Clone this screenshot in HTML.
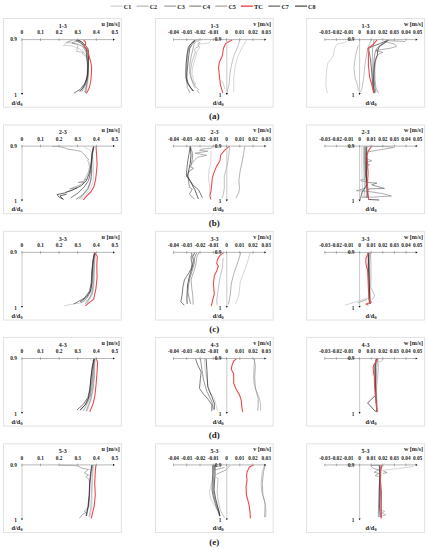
<!DOCTYPE html><html><head><meta charset="utf-8"><style>html,body{margin:0;padding:0;background:#fff;}svg{display:block;} text{font-family:"Liberation Serif",serif;font-weight:bold;fill:#1a1a1a;}</style></head><body>
<svg width="428" height="550" viewBox="0 0 428 550">
<rect x="0" y="0" width="428" height="550" fill="#fff"/>
<line x1="110.7" y1="6.1" x2="122.7" y2="6.1" stroke="#c4c4c4" stroke-width="1.0"/>
<text x="123.8" y="8.5" font-size="7.0" textLength="7.5" lengthAdjust="spacingAndGlyphs">C1</text>
<line x1="136.6" y1="6.1" x2="148.6" y2="6.1" stroke="#a8a8a8" stroke-width="1.0"/>
<text x="149.7" y="8.5" font-size="7.0" textLength="7.5" lengthAdjust="spacingAndGlyphs">C2</text>
<line x1="164.2" y1="6.1" x2="176.2" y2="6.1" stroke="#8c8c8c" stroke-width="1.0"/>
<text x="177.29999999999998" y="8.5" font-size="7.0" textLength="7.5" lengthAdjust="spacingAndGlyphs">C3</text>
<line x1="189.4" y1="6.1" x2="201.4" y2="6.1" stroke="#6e6e6e" stroke-width="1.0"/>
<text x="202.5" y="8.5" font-size="7.0" textLength="7.5" lengthAdjust="spacingAndGlyphs">C4</text>
<line x1="215.3" y1="6.1" x2="227.3" y2="6.1" stroke="#909090" stroke-width="1.0"/>
<text x="228.4" y="8.5" font-size="7.0" textLength="7.5" lengthAdjust="spacingAndGlyphs">C5</text>
<line x1="240.8" y1="6.1" x2="252.8" y2="6.1" stroke="#f02030" stroke-width="1.2"/>
<text x="253.9" y="8.5" font-size="7.0" textLength="9.1" lengthAdjust="spacingAndGlyphs">TC</text>
<line x1="268.3" y1="6.1" x2="280.3" y2="6.1" stroke="#444444" stroke-width="1.0"/>
<text x="281.40000000000003" y="8.5" font-size="7.0" textLength="7.5" lengthAdjust="spacingAndGlyphs">C7</text>
<line x1="295.0" y1="6.1" x2="307.0" y2="6.1" stroke="#222222" stroke-width="1.0"/>
<text x="308.1" y="8.5" font-size="7.0" textLength="7.5" lengthAdjust="spacingAndGlyphs">C8</text>
<rect x="3.5" y="18.5" width="117.8" height="88.7" fill="none" stroke="#e2e2e2" stroke-width="1.0"/>
<polyline points="75.0,40.0 68.0,42.0 63.3,45.3 71.3,45.8 76.6,47.5 82.9,51.1 86.0,56.0 88.0,63.0 88.6,72.0 88.2,80.0 87.2,87.0 85.7,93.0" fill="none" stroke="#c4c4c4" stroke-width="0.7" stroke-linejoin="round"/>
<polyline points="72.0,40.0 66.0,42.5 72.0,43.0 78.0,45.0 76.6,51.5 83.8,52.4 82.0,53.3 86.5,57.0 88.3,66.0 88.0,76.0 86.5,85.0 84.4,92.5" fill="none" stroke="#a8a8a8" stroke-width="0.7" stroke-linejoin="round"/>
<polyline points="79.0,40.0 72.0,43.0 78.0,44.0 83.0,47.0 86.0,52.0 87.8,59.0 88.0,68.0 87.4,78.0 85.0,86.0 82.0,91.5" fill="none" stroke="#8c8c8c" stroke-width="0.7" stroke-linejoin="round"/>
<polyline points="75.0,40.0 80.0,42.5 84.5,47.0 87.0,53.0 88.0,61.0 88.0,70.0 87.2,78.0 85.5,84.0 82.0,89.0 79.4,91.3" fill="none" stroke="#909090" stroke-width="0.7" stroke-linejoin="round"/>
<polyline points="78.9,40.0 83.5,44.0 86.8,50.0 88.2,57.0 88.5,65.0 88.2,73.0 87.5,80.0 86.5,86.0 85.6,93.0" fill="none" stroke="#6e6e6e" stroke-width="0.7" stroke-linejoin="round"/>
<polyline points="76.0,40.5 80.2,42.6 83.5,45.4 86.3,49.1 86.7,52.4 86.6,57.0 87.3,62.0 87.5,68.0 87.2,75.0 86.3,79.0 84.5,84.0 80.0,89.5 73.9,93.2" fill="none" stroke="#444444" stroke-width="0.7" stroke-linejoin="round"/>
<polyline points="77.4,40.0 81.6,41.7 84.4,44.5 86.7,46.8 88.1,49.1 88.6,52.4 88.5,57.0 88.2,62.0 88.0,68.0 87.6,75.0 86.5,80.0 84.5,85.0 82.5,88.5 80.0,91.5" fill="none" stroke="#222222" stroke-width="0.7" stroke-linejoin="round"/>
<polyline points="83.5,40.3 85.3,41.7 85.8,44.0 84.6,46.3 84.2,47.3 86.0,47.7 87.4,50.1 88.4,52.9 89.3,57.0 90.5,61.0 91.3,65.0 91.6,68.0 91.5,72.0 91.2,76.0 90.9,80.0 89.6,87.0 88.0,90.5 86.3,93.5" fill="none" stroke="#ee4a4e" stroke-width="1.1" stroke-linejoin="round"/>
<line x1="22.0" y1="39.6" x2="22.0" y2="93.4" stroke="#bdbdbd" stroke-width="0.8"/>
<path d="M20.9,93.10000000000001 L23.1,93.10000000000001 L22.0,94.9 Z" fill="#111"/>
<line x1="21.9" y1="39.6" x2="113.4" y2="39.6" stroke="#a4a4a4" stroke-width="0.8"/>
<path d="M113.0,38.5 L113.0,40.7 L114.9,39.6 Z" fill="#111"/>
<line x1="21.90" y1="38.300000000000004" x2="21.90" y2="40.9" stroke="#8a8a8a" stroke-width="0.7"/>
<line x1="40.50" y1="38.300000000000004" x2="40.50" y2="40.9" stroke="#8a8a8a" stroke-width="0.7"/>
<line x1="59.10" y1="38.300000000000004" x2="59.10" y2="40.9" stroke="#8a8a8a" stroke-width="0.7"/>
<line x1="77.70" y1="38.300000000000004" x2="77.70" y2="40.9" stroke="#8a8a8a" stroke-width="0.7"/>
<line x1="96.30" y1="38.300000000000004" x2="96.30" y2="40.9" stroke="#8a8a8a" stroke-width="0.7"/>
<text x="21.90" y="34.20" font-size="5.3" text-anchor="middle">0</text>
<text x="40.50" y="34.20" font-size="5.3" text-anchor="middle">0.1</text>
<text x="59.10" y="34.20" font-size="5.3" text-anchor="middle">0.2</text>
<text x="77.70" y="34.20" font-size="5.3" text-anchor="middle">0.3</text>
<text x="96.30" y="34.20" font-size="5.3" text-anchor="middle">0.4</text>
<text x="114.90" y="34.20" font-size="5.3" text-anchor="middle">0.5</text>
<text x="62.7" y="27.80" font-size="6.1" text-anchor="middle">1-3</text>
<text x="119.7" y="25.90" font-size="6.1" text-anchor="end">u [m/s]</text>
<text x="13.5" y="41.40" font-size="5.3" text-anchor="middle">0.9</text>
<text x="15.6" y="96.90" font-size="5.3" text-anchor="middle">1</text>
<text x="17.0" y="104.70" font-size="6.4" text-anchor="middle">d/d<tspan font-size="4.2" dy="1.2">0</tspan></text>
<rect x="155.5" y="18.5" width="117.7" height="88.7" fill="none" stroke="#e2e2e2" stroke-width="1.0"/>
<polyline points="211.0,40.0 209.9,41.6 209.0,43.0 203.4,43.9 201.0,43.5 198.7,45.3 199.6,47.7 196.8,51.9 195.9,56.6 194.0,62.2 192.5,68.0 192.0,74.0 193.5,80.0 196.0,85.0" fill="none" stroke="#c4c4c4" stroke-width="0.7" stroke-linejoin="round"/>
<polyline points="200.1,39.3 197.3,41.1 200.1,43.0 197.8,43.9 198.7,46.3 195.4,48.1 194.5,50.0 195.4,51.9 194.0,56.6 192.1,61.2 191.2,65.9 190.5,72.0 191.0,78.0 193.0,84.0 195.0,88.0" fill="none" stroke="#a8a8a8" stroke-width="0.7" stroke-linejoin="round"/>
<polyline points="194.0,40.3 190.0,45.0 188.0,52.0 187.2,60.0 186.8,70.0 186.5,78.0 187.3,87.4 190.1,93.0" fill="none" stroke="#8c8c8c" stroke-width="0.7" stroke-linejoin="round"/>
<polyline points="196.4,40.5 194.0,44.4 193.1,48.1 191.2,56.6 189.8,64.0 189.7,73.3 192.0,79.9 195.3,86.4 198.6,89.7 197.2,91.1 199.5,93.0" fill="none" stroke="#909090" stroke-width="0.7" stroke-linejoin="round"/>
<polyline points="195.4,40.2 192.1,44.4 189.8,48.1 188.9,54.7 187.9,64.0 187.0,72.0 186.8,78.0 188.0,83.0 191.0,88.0 193.5,91.0" fill="none" stroke="#444444" stroke-width="0.7" stroke-linejoin="round"/>
<polyline points="195.0,40.2 191.2,43.5 188.4,47.2 187.0,54.7 186.1,64.0 185.8,72.0 186.0,78.0 187.3,82.7 190.0,87.0 193.0,91.1" fill="none" stroke="#222222" stroke-width="0.7" stroke-linejoin="round"/>
<polyline points="239.8,40.0 237.7,46.8 233.7,56.3 231.0,67.2 229.6,76.7 229.0,84.8 226.9,92.9" fill="none" stroke="#a8a8a8" stroke-width="0.7" stroke-linejoin="round"/>
<polyline points="246.6,40.0 242.5,46.8 237.7,56.3 235.0,67.2 233.7,78.0 233.7,91.6" fill="none" stroke="#c4c4c4" stroke-width="0.7" stroke-linejoin="round"/>
<polyline points="222.2,80.7 224.9,88.9" fill="none" stroke="#c4c4c4" stroke-width="0.7" stroke-linejoin="round"/>
<polyline points="232.3,39.8 225.6,43.5 223.5,48.2 222.2,56.3 219.5,61.7 218.5,67.2 219.5,76.7 220.4,84.8 222.8,92.9" fill="none" stroke="#ee4a4e" stroke-width="1.1" stroke-linejoin="round"/>
<line x1="226.8" y1="39.6" x2="226.8" y2="93.4" stroke="#bdbdbd" stroke-width="0.8"/>
<path d="M225.70000000000002,93.10000000000001 L227.9,93.10000000000001 L226.8,94.9 Z" fill="#111"/>
<line x1="173.5" y1="39.6" x2="264.75" y2="39.6" stroke="#a4a4a4" stroke-width="0.8"/>
<path d="M264.35,38.5 L264.35,40.7 L266.25,39.6 Z" fill="#111"/>
<line x1="173.50" y1="38.300000000000004" x2="173.50" y2="40.9" stroke="#8a8a8a" stroke-width="0.7"/>
<line x1="186.75" y1="38.300000000000004" x2="186.75" y2="40.9" stroke="#8a8a8a" stroke-width="0.7"/>
<line x1="200.00" y1="38.300000000000004" x2="200.00" y2="40.9" stroke="#8a8a8a" stroke-width="0.7"/>
<line x1="213.25" y1="38.300000000000004" x2="213.25" y2="40.9" stroke="#8a8a8a" stroke-width="0.7"/>
<line x1="226.50" y1="38.300000000000004" x2="226.50" y2="40.9" stroke="#8a8a8a" stroke-width="0.7"/>
<line x1="239.75" y1="38.300000000000004" x2="239.75" y2="40.9" stroke="#8a8a8a" stroke-width="0.7"/>
<line x1="253.00" y1="38.300000000000004" x2="253.00" y2="40.9" stroke="#8a8a8a" stroke-width="0.7"/>
<text x="173.50" y="34.20" font-size="5.3" text-anchor="middle">-0.04</text>
<text x="186.75" y="34.20" font-size="5.3" text-anchor="middle">-0.03</text>
<text x="200.00" y="34.20" font-size="5.3" text-anchor="middle">-0.02</text>
<text x="213.25" y="34.20" font-size="5.3" text-anchor="middle">-0.01</text>
<text x="226.50" y="34.20" font-size="5.3" text-anchor="middle">0</text>
<text x="239.75" y="34.20" font-size="5.3" text-anchor="middle">0.01</text>
<text x="253.00" y="34.20" font-size="5.3" text-anchor="middle">0.02</text>
<text x="266.25" y="34.20" font-size="5.3" text-anchor="middle">0.03</text>
<text x="214.5" y="27.80" font-size="6.1" text-anchor="middle">1-3</text>
<text x="271.0" y="25.90" font-size="6.1" text-anchor="end">v [m/s]</text>
<text x="218.0" y="41.40" font-size="5.3" text-anchor="middle">0.9</text>
<text x="220.0" y="96.90" font-size="5.3" text-anchor="middle">1</text>
<text x="218.2" y="104.70" font-size="6.4" text-anchor="middle">d/d<tspan font-size="4.2" dy="1.2">0</tspan></text>
<rect x="306.6" y="18.5" width="118.0" height="88.7" fill="none" stroke="#e2e2e2" stroke-width="1.0"/>
<polyline points="346.6,41.3 343.1,43.0 336.7,44.2 335.5,47.1 334.4,48.9 333.2,55.9 330.9,59.4 327.9,62.9 326.8,68.7 326.2,76.9 325.9,85.0 327.3,93.2" fill="none" stroke="#c4c4c4" stroke-width="0.7" stroke-linejoin="round"/>
<polyline points="358.2,45.5 356.6,51.0 355.0,59.1 354.0,67.6 355.0,78.1 357.7,85.5 358.2,90.8" fill="none" stroke="#a8a8a8" stroke-width="0.7" stroke-linejoin="round"/>
<polyline points="371.4,39.5 369.0,45.3 366.7,53.5 364.9,65.2 363.8,76.9 362.0,88.6 360.5,92.0" fill="none" stroke="#a8a8a8" stroke-width="0.7" stroke-linejoin="round"/>
<polyline points="374.0,40.0 372.5,50.0 372.2,60.0 372.3,70.0 372.8,80.0 373.5,90.0" fill="none" stroke="#8c8c8c" stroke-width="0.7" stroke-linejoin="round"/>
<polyline points="384.2,41.3 394.7,44.2 396.5,46.5 390.0,48.3 378.4,50.0 375.4,50.6 383.0,52.4 379.5,53.5 377.0,56.0 375.5,62.0 374.8,70.0 375.0,80.0 376.0,88.0 378.5,93.0" fill="none" stroke="#909090" stroke-width="0.7" stroke-linejoin="round"/>
<polyline points="388.0,40.0 382.0,44.0 377.0,48.0 375.0,53.0 374.0,60.0 373.8,70.0 374.0,80.0 375.0,88.0 376.0,92.0" fill="none" stroke="#6e6e6e" stroke-width="0.7" stroke-linejoin="round"/>
<polyline points="388.0,40.0 379.0,44.0 372.5,46.3 368.5,48.7 369.5,53.0 370.5,60.0 371.5,70.0 372.3,80.0 373.0,88.0 374.0,93.0" fill="none" stroke="#444444" stroke-width="0.7" stroke-linejoin="round"/>
<polyline points="388.9,40.0 379.5,46.5 377.8,50.0 377.2,55.9 375.4,59.4 374.3,65.2 373.7,76.9 373.7,87.4 374.9,93.2" fill="none" stroke="#222222" stroke-width="0.7" stroke-linejoin="round"/>
<polyline points="386.0,40.5 405.0,41.5" fill="none" stroke="#8c8c8c" stroke-width="0.7" stroke-linejoin="round"/>
<polyline points="377.2,39.5 373.7,44.2 367.9,48.3 368.4,53.5 368.4,65.2 369.6,76.9 371.9,85.1 373.7,93.2" fill="none" stroke="#ee4a4e" stroke-width="1.1" stroke-linejoin="round"/>
<line x1="359.6" y1="39.6" x2="359.6" y2="93.4" stroke="#bdbdbd" stroke-width="0.8"/>
<path d="M358.5,93.10000000000001 L360.70000000000005,93.10000000000001 L359.6,94.9 Z" fill="#111"/>
<line x1="324.8" y1="39.6" x2="416.1" y2="39.6" stroke="#a4a4a4" stroke-width="0.8"/>
<path d="M415.70000000000005,38.5 L415.70000000000005,40.7 L417.6,39.6 Z" fill="#111"/>
<line x1="324.80" y1="38.300000000000004" x2="324.80" y2="40.9" stroke="#8a8a8a" stroke-width="0.7"/>
<line x1="336.40" y1="38.300000000000004" x2="336.40" y2="40.9" stroke="#8a8a8a" stroke-width="0.7"/>
<line x1="348.00" y1="38.300000000000004" x2="348.00" y2="40.9" stroke="#8a8a8a" stroke-width="0.7"/>
<line x1="359.60" y1="38.300000000000004" x2="359.60" y2="40.9" stroke="#8a8a8a" stroke-width="0.7"/>
<line x1="371.20" y1="38.300000000000004" x2="371.20" y2="40.9" stroke="#8a8a8a" stroke-width="0.7"/>
<line x1="382.80" y1="38.300000000000004" x2="382.80" y2="40.9" stroke="#8a8a8a" stroke-width="0.7"/>
<line x1="394.40" y1="38.300000000000004" x2="394.40" y2="40.9" stroke="#8a8a8a" stroke-width="0.7"/>
<line x1="406.00" y1="38.300000000000004" x2="406.00" y2="40.9" stroke="#8a8a8a" stroke-width="0.7"/>
<text x="324.80" y="34.20" font-size="5.3" text-anchor="middle">-0.03</text>
<text x="336.40" y="34.20" font-size="5.3" text-anchor="middle">-0.02</text>
<text x="348.00" y="34.20" font-size="5.3" text-anchor="middle">-0.01</text>
<text x="359.60" y="34.20" font-size="5.3" text-anchor="middle">0</text>
<text x="371.20" y="34.20" font-size="5.3" text-anchor="middle">0.01</text>
<text x="382.80" y="34.20" font-size="5.3" text-anchor="middle">0.02</text>
<text x="394.40" y="34.20" font-size="5.3" text-anchor="middle">0.03</text>
<text x="406.00" y="34.20" font-size="5.3" text-anchor="middle">0.04</text>
<text x="417.60" y="34.20" font-size="5.3" text-anchor="middle">0.05</text>
<text x="365.5" y="27.80" font-size="6.1" text-anchor="middle">1-3</text>
<text x="423.0" y="25.90" font-size="6.1" text-anchor="end">w [m/s]</text>
<text x="351.2" y="41.40" font-size="5.3" text-anchor="middle">0.9</text>
<text x="353.0" y="96.90" font-size="5.3" text-anchor="middle">1</text>
<text x="371.0" y="104.70" font-size="6.4" text-anchor="middle">d/d<tspan font-size="4.2" dy="1.2">0</tspan></text>
<text x="214.2" y="119.10" font-size="9" text-anchor="middle">(a)</text>
<rect x="3.5" y="125.0" width="117.8" height="88.7" fill="none" stroke="#e2e2e2" stroke-width="1.0"/>
<polyline points="84.4,147.2 88.6,149.3 90.8,151.4 92.5,156.0 93.5,165.0 93.5,172.0 92.9,182.5 89.7,189.9 84.4,196.2 80.2,199.3" fill="none" stroke="#c4c4c4" stroke-width="0.7" stroke-linejoin="round"/>
<polyline points="52.2,146.4 59.2,146.5 64.1,147.7 67.6,149.1 74.0,150.0 81.3,151.4 82.9,153.5 85.5,155.6 86.5,157.7 88.6,159.3 87.6,160.9 89.2,162.5 88.6,164.0 89.7,166.1 88.5,172.0 86.0,177.0 84.4,179.4 86.5,179.4 83.0,181.5 78.1,182.5 84.4,182.0 80.0,185.0 75.0,187.0 69.7,188.8 77.1,187.8 72.0,190.0 66.0,192.0" fill="none" stroke="#909090" stroke-width="0.7" stroke-linejoin="round"/>
<polyline points="93.5,146.4 92.8,153.5 92.0,164.0 91.5,172.0 90.8,180.4 88.5,188.5 84.0,194.0 79.0,199.3" fill="none" stroke="#8c8c8c" stroke-width="0.7" stroke-linejoin="round"/>
<polyline points="93.9,146.4 92.3,153.5 91.3,164.0 91.8,172.0 90.8,180.4 87.6,188.8 82.3,195.1 76.0,199.3" fill="none" stroke="#6e6e6e" stroke-width="0.7" stroke-linejoin="round"/>
<polyline points="93.9,146.4 92.3,153.5 91.3,164.0 90.5,172.0 88.6,180.4 84.4,186.7 78.1,193.0 70.8,197.8" fill="none" stroke="#444444" stroke-width="0.7" stroke-linejoin="round"/>
<polyline points="93.5,146.4 92.0,153.5 91.0,164.0 89.7,172.0 86.5,180.4 81.3,185.7 72.9,189.9 64.5,193.0 57.1,194.6 59.2,197.2 63.4,199.3 60.0,196.0 66.6,194.1" fill="none" stroke="#222222" stroke-width="0.7" stroke-linejoin="round"/>
<polyline points="96.0,146.4 96.5,153.5 97.1,164.0 96.5,172.0 95.5,180.4 93.9,186.7 90.8,192.0 86.5,196.2 83.4,199.9" fill="none" stroke="#ee4a4e" stroke-width="1.1" stroke-linejoin="round"/>
<line x1="22.0" y1="146.1" x2="22.0" y2="199.9" stroke="#bdbdbd" stroke-width="0.8"/>
<path d="M20.9,199.6 L23.1,199.6 L22.0,201.4 Z" fill="#111"/>
<line x1="21.9" y1="146.1" x2="113.4" y2="146.1" stroke="#a4a4a4" stroke-width="0.8"/>
<path d="M113.0,145.0 L113.0,147.2 L114.9,146.1 Z" fill="#111"/>
<line x1="21.90" y1="144.79999999999998" x2="21.90" y2="147.4" stroke="#8a8a8a" stroke-width="0.7"/>
<line x1="40.50" y1="144.79999999999998" x2="40.50" y2="147.4" stroke="#8a8a8a" stroke-width="0.7"/>
<line x1="59.10" y1="144.79999999999998" x2="59.10" y2="147.4" stroke="#8a8a8a" stroke-width="0.7"/>
<line x1="77.70" y1="144.79999999999998" x2="77.70" y2="147.4" stroke="#8a8a8a" stroke-width="0.7"/>
<line x1="96.30" y1="144.79999999999998" x2="96.30" y2="147.4" stroke="#8a8a8a" stroke-width="0.7"/>
<text x="21.90" y="140.70" font-size="5.3" text-anchor="middle">0</text>
<text x="40.50" y="140.70" font-size="5.3" text-anchor="middle">0.1</text>
<text x="59.10" y="140.70" font-size="5.3" text-anchor="middle">0.2</text>
<text x="77.70" y="140.70" font-size="5.3" text-anchor="middle">0.3</text>
<text x="96.30" y="140.70" font-size="5.3" text-anchor="middle">0.4</text>
<text x="114.90" y="140.70" font-size="5.3" text-anchor="middle">0.5</text>
<text x="62.7" y="134.30" font-size="6.1" text-anchor="middle">2-3</text>
<text x="119.7" y="132.40" font-size="6.1" text-anchor="end">u [m/s]</text>
<text x="13.5" y="147.90" font-size="5.3" text-anchor="middle">0.9</text>
<text x="15.6" y="203.40" font-size="5.3" text-anchor="middle">1</text>
<text x="17.0" y="211.20" font-size="6.4" text-anchor="middle">d/d<tspan font-size="4.2" dy="1.2">0</tspan></text>
<rect x="155.5" y="125.0" width="117.7" height="88.7" fill="none" stroke="#e2e2e2" stroke-width="1.0"/>
<polyline points="211.1,151.2 210.7,163.4 209.0,170.0 208.5,178.0 209.5,186.0 210.0,195.0" fill="none" stroke="#c4c4c4" stroke-width="0.7" stroke-linejoin="round"/>
<polyline points="191.4,164.3 194.3,160.2 197.6,157.3 206.6,155.3 195.1,153.2 207.8,151.2 199.6,150.4 201.7,149.1 206.2,148.7 211.9,147.9 213.5,146.3" fill="none" stroke="#909090" stroke-width="0.7" stroke-linejoin="round"/>
<polyline points="190.2,146.3 192.7,153.6 192.3,159.4 191.0,166.0 190.2,166.7 193.5,168.3 189.8,170.8 187.8,174.0 188.6,181.4 189.4,187.2 192.3,189.2 189.4,194.1 194.4,199.0" fill="none" stroke="#6e6e6e" stroke-width="0.7" stroke-linejoin="round"/>
<polyline points="190.2,146.3 188.8,155.0 187.6,162.0 187.0,167.5 186.5,173.0 186.4,176.0 189.4,179.8 193.5,185.5 198.4,189.6 202.5,197.8" fill="none" stroke="#444444" stroke-width="0.7" stroke-linejoin="round"/>
<polyline points="190.2,146.3 191.0,155.3 190.2,163.4 189.0,169.2 188.2,173.0 187.5,176.0 190.3,181.4 194.8,189.6 198.4,199.0" fill="none" stroke="#222222" stroke-width="0.7" stroke-linejoin="round"/>
<polyline points="229.6,146.3 229.0,153.7 227.3,165.4 225.5,171.2 224.3,177.0 224.3,188.7 223.2,194.6 222.0,198.1" fill="none" stroke="#a8a8a8" stroke-width="0.7" stroke-linejoin="round"/>
<polyline points="244.8,146.3 243.6,153.7 241.9,163.0 240.1,171.2 238.9,180.6 239.5,188.7 238.4,193.4 236.0,198.1" fill="none" stroke="#909090" stroke-width="0.7" stroke-linejoin="round"/>
<polyline points="229.4,146.1 224.3,150.7 220.7,155.0 220.0,160.8 216.4,166.6 213.5,173.9 212.3,178.2 211.1,190.4 209.9,195.3 210.7,199.4" fill="none" stroke="#ee4a4e" stroke-width="1.1" stroke-linejoin="round"/>
<line x1="226.8" y1="146.1" x2="226.8" y2="199.9" stroke="#bdbdbd" stroke-width="0.8"/>
<path d="M225.70000000000002,199.6 L227.9,199.6 L226.8,201.4 Z" fill="#111"/>
<line x1="173.5" y1="146.1" x2="264.75" y2="146.1" stroke="#a4a4a4" stroke-width="0.8"/>
<path d="M264.35,145.0 L264.35,147.2 L266.25,146.1 Z" fill="#111"/>
<line x1="173.50" y1="144.79999999999998" x2="173.50" y2="147.4" stroke="#8a8a8a" stroke-width="0.7"/>
<line x1="186.75" y1="144.79999999999998" x2="186.75" y2="147.4" stroke="#8a8a8a" stroke-width="0.7"/>
<line x1="200.00" y1="144.79999999999998" x2="200.00" y2="147.4" stroke="#8a8a8a" stroke-width="0.7"/>
<line x1="213.25" y1="144.79999999999998" x2="213.25" y2="147.4" stroke="#8a8a8a" stroke-width="0.7"/>
<line x1="226.50" y1="144.79999999999998" x2="226.50" y2="147.4" stroke="#8a8a8a" stroke-width="0.7"/>
<line x1="239.75" y1="144.79999999999998" x2="239.75" y2="147.4" stroke="#8a8a8a" stroke-width="0.7"/>
<line x1="253.00" y1="144.79999999999998" x2="253.00" y2="147.4" stroke="#8a8a8a" stroke-width="0.7"/>
<text x="173.50" y="140.70" font-size="5.3" text-anchor="middle">-0.04</text>
<text x="186.75" y="140.70" font-size="5.3" text-anchor="middle">-0.03</text>
<text x="200.00" y="140.70" font-size="5.3" text-anchor="middle">-0.02</text>
<text x="213.25" y="140.70" font-size="5.3" text-anchor="middle">-0.01</text>
<text x="226.50" y="140.70" font-size="5.3" text-anchor="middle">0</text>
<text x="239.75" y="140.70" font-size="5.3" text-anchor="middle">0.01</text>
<text x="253.00" y="140.70" font-size="5.3" text-anchor="middle">0.02</text>
<text x="266.25" y="140.70" font-size="5.3" text-anchor="middle">0.03</text>
<text x="214.5" y="134.30" font-size="6.1" text-anchor="middle">2-3</text>
<text x="271.0" y="132.40" font-size="6.1" text-anchor="end">v [m/s]</text>
<text x="218.0" y="147.90" font-size="5.3" text-anchor="middle">0.9</text>
<text x="220.0" y="203.40" font-size="5.3" text-anchor="middle">1</text>
<text x="218.2" y="211.20" font-size="6.4" text-anchor="middle">d/d<tspan font-size="4.2" dy="1.2">0</tspan></text>
<rect x="306.6" y="125.0" width="118.0" height="88.7" fill="none" stroke="#e2e2e2" stroke-width="1.0"/>
<polyline points="361.8,147.0 361.8,160.0 362.0,175.0 362.5,190.0 363.0,198.0" fill="none" stroke="#c4c4c4" stroke-width="0.7" stroke-linejoin="round"/>
<polyline points="363.4,146.5 363.5,160.0 364.0,175.0 364.5,190.0 365.0,198.0" fill="none" stroke="#a8a8a8" stroke-width="0.7" stroke-linejoin="round"/>
<polyline points="366.0,146.5 386.0,146.5 393.5,147.5 367.0,152.0 366.5,158.8 371.8,160.9 367.6,161.9 367.0,164.0 369.7,164.6 367.5,166.0 366.5,172.0 364.6,179.0 360.5,180.2 362.9,181.3 366.4,181.3 367.0,188.0 367.5,198.0" fill="none" stroke="#909090" stroke-width="0.7" stroke-linejoin="round"/>
<polyline points="365.0,146.5 365.2,160.0 365.5,175.0 367.5,182.5 376.9,183.1 371.6,184.9 384.5,188.4 368.7,188.9 367.0,192.0 366.5,198.0" fill="none" stroke="#6e6e6e" stroke-width="0.7" stroke-linejoin="round"/>
<polyline points="364.5,146.5 364.6,160.0 365.0,175.0 366.0,188.0 356.4,190.7 367.5,191.3 382.7,193.6 391.5,196.0 373.4,197.1 361.7,197.1" fill="none" stroke="#8c8c8c" stroke-width="0.7" stroke-linejoin="round"/>
<polyline points="366.0,146.5 365.8,160.0 366.0,175.0 367.5,183.7 361.7,193.0 360.5,198.9" fill="none" stroke="#444444" stroke-width="0.7" stroke-linejoin="round"/>
<polyline points="366.8,146.5 366.5,160.0 366.5,175.0 367.0,190.0 368.7,199.5 379.2,200.0" fill="none" stroke="#222222" stroke-width="0.7" stroke-linejoin="round"/>
<polyline points="371.3,146.3 370.8,147.2 368.1,151.4 367.1,155.6 367.6,164.0 368.1,173.0 367.5,183.7 368.1,195.4 368.7,199.5" fill="none" stroke="#ee4a4e" stroke-width="1.1" stroke-linejoin="round"/>
<line x1="359.6" y1="146.1" x2="359.6" y2="199.9" stroke="#bdbdbd" stroke-width="0.8"/>
<path d="M358.5,199.6 L360.70000000000005,199.6 L359.6,201.4 Z" fill="#111"/>
<line x1="324.8" y1="146.1" x2="416.1" y2="146.1" stroke="#a4a4a4" stroke-width="0.8"/>
<path d="M415.70000000000005,145.0 L415.70000000000005,147.2 L417.6,146.1 Z" fill="#111"/>
<line x1="324.80" y1="144.79999999999998" x2="324.80" y2="147.4" stroke="#8a8a8a" stroke-width="0.7"/>
<line x1="336.40" y1="144.79999999999998" x2="336.40" y2="147.4" stroke="#8a8a8a" stroke-width="0.7"/>
<line x1="348.00" y1="144.79999999999998" x2="348.00" y2="147.4" stroke="#8a8a8a" stroke-width="0.7"/>
<line x1="359.60" y1="144.79999999999998" x2="359.60" y2="147.4" stroke="#8a8a8a" stroke-width="0.7"/>
<line x1="371.20" y1="144.79999999999998" x2="371.20" y2="147.4" stroke="#8a8a8a" stroke-width="0.7"/>
<line x1="382.80" y1="144.79999999999998" x2="382.80" y2="147.4" stroke="#8a8a8a" stroke-width="0.7"/>
<line x1="394.40" y1="144.79999999999998" x2="394.40" y2="147.4" stroke="#8a8a8a" stroke-width="0.7"/>
<line x1="406.00" y1="144.79999999999998" x2="406.00" y2="147.4" stroke="#8a8a8a" stroke-width="0.7"/>
<text x="324.80" y="140.70" font-size="5.3" text-anchor="middle">-0.03</text>
<text x="336.40" y="140.70" font-size="5.3" text-anchor="middle">-0.02</text>
<text x="348.00" y="140.70" font-size="5.3" text-anchor="middle">-0.01</text>
<text x="359.60" y="140.70" font-size="5.3" text-anchor="middle">0</text>
<text x="371.20" y="140.70" font-size="5.3" text-anchor="middle">0.01</text>
<text x="382.80" y="140.70" font-size="5.3" text-anchor="middle">0.02</text>
<text x="394.40" y="140.70" font-size="5.3" text-anchor="middle">0.03</text>
<text x="406.00" y="140.70" font-size="5.3" text-anchor="middle">0.04</text>
<text x="417.60" y="140.70" font-size="5.3" text-anchor="middle">0.05</text>
<text x="365.5" y="134.30" font-size="6.1" text-anchor="middle">2-3</text>
<text x="423.0" y="132.40" font-size="6.1" text-anchor="end">w [m/s]</text>
<text x="351.2" y="147.90" font-size="5.3" text-anchor="middle">0.9</text>
<text x="353.0" y="203.40" font-size="5.3" text-anchor="middle">1</text>
<text x="371.0" y="211.20" font-size="6.4" text-anchor="middle">d/d<tspan font-size="4.2" dy="1.2">0</tspan></text>
<text x="214.2" y="225.60" font-size="9" text-anchor="middle">(b)</text>
<rect x="3.5" y="231.3" width="117.8" height="88.7" fill="none" stroke="#e2e2e2" stroke-width="1.0"/>
<polyline points="95.5,252.6 94.8,262.0 94.3,275.0 93.8,287.0 92.5,294.0 88.0,300.0 79.0,303.5 74.9,303.5 64.3,305.8" fill="none" stroke="#c4c4c4" stroke-width="0.7" stroke-linejoin="round"/>
<polyline points="95.2,252.6 94.5,262.0 94.0,275.0 93.5,286.0 92.2,294.0 89.5,299.0 86.5,304.5" fill="none" stroke="#a8a8a8" stroke-width="0.7" stroke-linejoin="round"/>
<polyline points="95.0,252.6 94.0,260.0 93.5,271.0 93.0,283.0 92.0,292.0 89.5,298.0 85.0,304.0" fill="none" stroke="#8c8c8c" stroke-width="0.7" stroke-linejoin="round"/>
<polyline points="94.7,252.6 93.5,260.0 92.5,271.0 92.0,283.0 90.5,292.0 87.0,298.0 81.0,303.0" fill="none" stroke="#6e6e6e" stroke-width="0.7" stroke-linejoin="round"/>
<polyline points="94.7,252.6 93.0,259.7 91.8,271.4 91.2,283.0 89.5,291.2 84.2,298.2 73.7,304.1" fill="none" stroke="#444444" stroke-width="0.7" stroke-linejoin="round"/>
<polyline points="94.5,252.6 93.2,260.0 92.2,271.0 91.8,283.0 90.5,291.0 86.5,297.0 80.0,302.0" fill="none" stroke="#222222" stroke-width="0.7" stroke-linejoin="round"/>
<polyline points="94.7,252.6 97.3,256.2 96.8,265.5 97.1,277.2 95.9,288.9 93.6,299.4 88.9,302.9 85.4,305.8" fill="none" stroke="#ee4a4e" stroke-width="1.1" stroke-linejoin="round"/>
<line x1="22.0" y1="252.4" x2="22.0" y2="306.20000000000005" stroke="#bdbdbd" stroke-width="0.8"/>
<path d="M20.9,305.90000000000003 L23.1,305.90000000000003 L22.0,307.70000000000005 Z" fill="#111"/>
<line x1="21.9" y1="252.4" x2="113.4" y2="252.4" stroke="#a4a4a4" stroke-width="0.8"/>
<path d="M113.0,251.3 L113.0,253.5 L114.9,252.4 Z" fill="#111"/>
<line x1="21.90" y1="251.1" x2="21.90" y2="253.70000000000002" stroke="#8a8a8a" stroke-width="0.7"/>
<line x1="40.50" y1="251.1" x2="40.50" y2="253.70000000000002" stroke="#8a8a8a" stroke-width="0.7"/>
<line x1="59.10" y1="251.1" x2="59.10" y2="253.70000000000002" stroke="#8a8a8a" stroke-width="0.7"/>
<line x1="77.70" y1="251.1" x2="77.70" y2="253.70000000000002" stroke="#8a8a8a" stroke-width="0.7"/>
<line x1="96.30" y1="251.1" x2="96.30" y2="253.70000000000002" stroke="#8a8a8a" stroke-width="0.7"/>
<text x="21.90" y="247.00" font-size="5.3" text-anchor="middle">0</text>
<text x="40.50" y="247.00" font-size="5.3" text-anchor="middle">0.1</text>
<text x="59.10" y="247.00" font-size="5.3" text-anchor="middle">0.2</text>
<text x="77.70" y="247.00" font-size="5.3" text-anchor="middle">0.3</text>
<text x="96.30" y="247.00" font-size="5.3" text-anchor="middle">0.4</text>
<text x="114.90" y="247.00" font-size="5.3" text-anchor="middle">0.5</text>
<text x="62.7" y="240.60" font-size="6.1" text-anchor="middle">3-3</text>
<text x="119.7" y="238.70" font-size="6.1" text-anchor="end">u [m/s]</text>
<text x="13.5" y="254.20" font-size="5.3" text-anchor="middle">0.9</text>
<text x="15.6" y="309.70" font-size="5.3" text-anchor="middle">1</text>
<text x="17.0" y="317.50" font-size="6.4" text-anchor="middle">d/d<tspan font-size="4.2" dy="1.2">0</tspan></text>
<rect x="155.5" y="231.3" width="117.7" height="88.7" fill="none" stroke="#e2e2e2" stroke-width="1.0"/>
<polyline points="191.3,252.5 192.0,254.9 191.0,257.0 191.3,259.8 192.0,264.0 191.3,268.2 189.2,272.4 186.4,276.6 184.4,280.0 183.0,286.4 182.0,295.5 180.9,301.8 184.4,305.3" fill="none" stroke="#444444" stroke-width="0.7" stroke-linejoin="round"/>
<polyline points="194.8,252.5 192.7,256.3 193.4,260.5 192.4,266.8 190.6,272.4 189.0,278.0 187.6,285.0 187.2,292.0 186.9,299.0 187.2,303.9" fill="none" stroke="#222222" stroke-width="0.7" stroke-linejoin="round"/>
<polyline points="196.9,252.5 194.8,257.0 194.1,264.0 192.0,271.0 189.9,278.0 188.5,285.0 187.9,292.0 189.3,299.0 190.7,303.9" fill="none" stroke="#6e6e6e" stroke-width="0.7" stroke-linejoin="round"/>
<polyline points="199.0,252.5 196.9,257.0 195.9,264.0 194.1,271.0 192.0,276.6 191.1,280.0 191.8,288.5 192.8,295.5 193.2,304.6" fill="none" stroke="#8c8c8c" stroke-width="0.7" stroke-linejoin="round"/>
<polyline points="223.2,257.8 222.4,267.6 220.0,277.4 218.3,288.9 216.7,300.3 217.2,305.2" fill="none" stroke="#a8a8a8" stroke-width="0.7" stroke-linejoin="round"/>
<polyline points="240.8,252.5 237.9,262.0 233.8,273.7 231.4,283.0 230.3,294.7 228.5,304.1" fill="none" stroke="#909090" stroke-width="0.7" stroke-linejoin="round"/>
<polyline points="250.1,252.5 247.2,263.2 243.7,272.5 240.2,281.9 239.0,294.7 235.5,304.1" fill="none" stroke="#c4c4c4" stroke-width="0.7" stroke-linejoin="round"/>
<polyline points="224.1,252.4 220.0,255.4 217.5,259.4 216.7,263.5 218.3,266.0 216.7,270.9 214.3,275.8 213.4,284.0 214.3,293.8 212.6,300.3 211.3,306.1" fill="none" stroke="#ee4a4e" stroke-width="1.1" stroke-linejoin="round"/>
<line x1="226.8" y1="252.4" x2="226.8" y2="306.20000000000005" stroke="#bdbdbd" stroke-width="0.8"/>
<path d="M225.70000000000002,305.90000000000003 L227.9,305.90000000000003 L226.8,307.70000000000005 Z" fill="#111"/>
<line x1="173.5" y1="252.4" x2="264.75" y2="252.4" stroke="#a4a4a4" stroke-width="0.8"/>
<path d="M264.35,251.3 L264.35,253.5 L266.25,252.4 Z" fill="#111"/>
<line x1="173.50" y1="251.1" x2="173.50" y2="253.70000000000002" stroke="#8a8a8a" stroke-width="0.7"/>
<line x1="186.75" y1="251.1" x2="186.75" y2="253.70000000000002" stroke="#8a8a8a" stroke-width="0.7"/>
<line x1="200.00" y1="251.1" x2="200.00" y2="253.70000000000002" stroke="#8a8a8a" stroke-width="0.7"/>
<line x1="213.25" y1="251.1" x2="213.25" y2="253.70000000000002" stroke="#8a8a8a" stroke-width="0.7"/>
<line x1="226.50" y1="251.1" x2="226.50" y2="253.70000000000002" stroke="#8a8a8a" stroke-width="0.7"/>
<line x1="239.75" y1="251.1" x2="239.75" y2="253.70000000000002" stroke="#8a8a8a" stroke-width="0.7"/>
<line x1="253.00" y1="251.1" x2="253.00" y2="253.70000000000002" stroke="#8a8a8a" stroke-width="0.7"/>
<text x="173.50" y="247.00" font-size="5.3" text-anchor="middle">-0.04</text>
<text x="186.75" y="247.00" font-size="5.3" text-anchor="middle">-0.03</text>
<text x="200.00" y="247.00" font-size="5.3" text-anchor="middle">-0.02</text>
<text x="213.25" y="247.00" font-size="5.3" text-anchor="middle">-0.01</text>
<text x="226.50" y="247.00" font-size="5.3" text-anchor="middle">0</text>
<text x="239.75" y="247.00" font-size="5.3" text-anchor="middle">0.01</text>
<text x="253.00" y="247.00" font-size="5.3" text-anchor="middle">0.02</text>
<text x="266.25" y="247.00" font-size="5.3" text-anchor="middle">0.03</text>
<text x="214.5" y="240.60" font-size="6.1" text-anchor="middle">3-3</text>
<text x="271.0" y="238.70" font-size="6.1" text-anchor="end">v [m/s]</text>
<text x="218.0" y="254.20" font-size="5.3" text-anchor="middle">0.9</text>
<text x="220.0" y="309.70" font-size="5.3" text-anchor="middle">1</text>
<text x="218.2" y="317.50" font-size="6.4" text-anchor="middle">d/d<tspan font-size="4.2" dy="1.2">0</tspan></text>
<rect x="306.6" y="231.3" width="118.0" height="88.7" fill="none" stroke="#e2e2e2" stroke-width="1.0"/>
<polyline points="367.8,298.2 345.0,305.2" fill="none" stroke="#c4c4c4" stroke-width="0.7" stroke-linejoin="round"/>
<polyline points="370.5,252.5 371.0,265.5 371.0,280.0 370.7,286.6 374.8,295.9 371.3,300.6" fill="none" stroke="#a8a8a8" stroke-width="0.7" stroke-linejoin="round"/>
<polyline points="367.2,299.4 357.9,302.9" fill="none" stroke="#8c8c8c" stroke-width="0.7" stroke-linejoin="round"/>
<polyline points="368.5,252.5 368.0,265.0 368.5,283.0 369.0,300.0 369.5,304.0" fill="none" stroke="#6e6e6e" stroke-width="0.7" stroke-linejoin="round"/>
<polyline points="370.0,252.5 369.5,265.0 369.8,283.0 370.2,300.0" fill="none" stroke="#909090" stroke-width="0.7" stroke-linejoin="round"/>
<polyline points="369.0,252.5 368.4,265.5 369.0,283.0 369.5,300.6 370.1,304.1" fill="none" stroke="#444444" stroke-width="0.7" stroke-linejoin="round"/>
<polyline points="368.0,252.5 368.8,265.0 369.3,283.0 369.8,300.0 370.5,303.5" fill="none" stroke="#222222" stroke-width="0.7" stroke-linejoin="round"/>
<polyline points="368.4,252.5 367.5,255.0 366.0,258.0 365.8,262.0 366.3,266.0 367.5,270.0 368.0,277.2 368.4,288.9 369.0,299.4 371.3,302.3 366.0,304.1 368.4,305.2" fill="none" stroke="#ee4a4e" stroke-width="1.1" stroke-linejoin="round"/>
<line x1="359.6" y1="252.4" x2="359.6" y2="306.20000000000005" stroke="#bdbdbd" stroke-width="0.8"/>
<path d="M358.5,305.90000000000003 L360.70000000000005,305.90000000000003 L359.6,307.70000000000005 Z" fill="#111"/>
<line x1="324.8" y1="252.4" x2="416.1" y2="252.4" stroke="#a4a4a4" stroke-width="0.8"/>
<path d="M415.70000000000005,251.3 L415.70000000000005,253.5 L417.6,252.4 Z" fill="#111"/>
<line x1="324.80" y1="251.1" x2="324.80" y2="253.70000000000002" stroke="#8a8a8a" stroke-width="0.7"/>
<line x1="336.40" y1="251.1" x2="336.40" y2="253.70000000000002" stroke="#8a8a8a" stroke-width="0.7"/>
<line x1="348.00" y1="251.1" x2="348.00" y2="253.70000000000002" stroke="#8a8a8a" stroke-width="0.7"/>
<line x1="359.60" y1="251.1" x2="359.60" y2="253.70000000000002" stroke="#8a8a8a" stroke-width="0.7"/>
<line x1="371.20" y1="251.1" x2="371.20" y2="253.70000000000002" stroke="#8a8a8a" stroke-width="0.7"/>
<line x1="382.80" y1="251.1" x2="382.80" y2="253.70000000000002" stroke="#8a8a8a" stroke-width="0.7"/>
<line x1="394.40" y1="251.1" x2="394.40" y2="253.70000000000002" stroke="#8a8a8a" stroke-width="0.7"/>
<line x1="406.00" y1="251.1" x2="406.00" y2="253.70000000000002" stroke="#8a8a8a" stroke-width="0.7"/>
<text x="324.80" y="247.00" font-size="5.3" text-anchor="middle">-0.03</text>
<text x="336.40" y="247.00" font-size="5.3" text-anchor="middle">-0.02</text>
<text x="348.00" y="247.00" font-size="5.3" text-anchor="middle">-0.01</text>
<text x="359.60" y="247.00" font-size="5.3" text-anchor="middle">0</text>
<text x="371.20" y="247.00" font-size="5.3" text-anchor="middle">0.01</text>
<text x="382.80" y="247.00" font-size="5.3" text-anchor="middle">0.02</text>
<text x="394.40" y="247.00" font-size="5.3" text-anchor="middle">0.03</text>
<text x="406.00" y="247.00" font-size="5.3" text-anchor="middle">0.04</text>
<text x="417.60" y="247.00" font-size="5.3" text-anchor="middle">0.05</text>
<text x="365.5" y="240.60" font-size="6.1" text-anchor="middle">3-3</text>
<text x="423.0" y="238.70" font-size="6.1" text-anchor="end">w [m/s]</text>
<text x="351.2" y="254.20" font-size="5.3" text-anchor="middle">0.9</text>
<text x="353.0" y="309.70" font-size="5.3" text-anchor="middle">1</text>
<text x="371.0" y="317.50" font-size="6.4" text-anchor="middle">d/d<tspan font-size="4.2" dy="1.2">0</tspan></text>
<text x="214.2" y="331.90" font-size="9" text-anchor="middle">(c)</text>
<rect x="3.5" y="337.4" width="117.8" height="88.7" fill="none" stroke="#e2e2e2" stroke-width="1.0"/>
<polyline points="90.4,359.3 93.3,361.0" fill="none" stroke="#c4c4c4" stroke-width="0.7" stroke-linejoin="round"/>
<polyline points="95.0,358.6 94.5,377.4 92.7,391.4 89.8,403.1 86.9,411.2" fill="none" stroke="#a8a8a8" stroke-width="0.7" stroke-linejoin="round"/>
<polyline points="93.9,358.6 93.3,371.5 92.1,386.7 89.8,398.4 83.4,411.2" fill="none" stroke="#8c8c8c" stroke-width="0.7" stroke-linejoin="round"/>
<polyline points="94.2,358.6 93.0,370.0 91.5,383.0 90.0,395.0 86.0,404.0 80.0,410.5" fill="none" stroke="#6e6e6e" stroke-width="0.7" stroke-linejoin="round"/>
<polyline points="94.8,358.6 94.0,372.0 93.0,387.0 91.0,399.0 88.0,406.0 86.0,411.5" fill="none" stroke="#909090" stroke-width="0.7" stroke-linejoin="round"/>
<polyline points="94.5,358.6 92.7,365.7 91.0,377.4 89.8,389.0 88.0,397.2 83.4,404.2 76.9,410.1" fill="none" stroke="#444444" stroke-width="0.7" stroke-linejoin="round"/>
<polyline points="94.0,358.6 92.3,366.0 91.0,377.0 90.0,389.0 88.5,398.0 85.0,405.0 80.0,410.0" fill="none" stroke="#222222" stroke-width="0.7" stroke-linejoin="round"/>
<polyline points="96.2,358.6 97.6,362.2 97.1,371.5 96.2,383.2 95.0,394.9 93.3,403.1 89.8,411.8" fill="none" stroke="#ee4a4e" stroke-width="1.1" stroke-linejoin="round"/>
<line x1="22.0" y1="358.5" x2="22.0" y2="412.29999999999995" stroke="#bdbdbd" stroke-width="0.8"/>
<path d="M20.9,411.99999999999994 L23.1,411.99999999999994 L22.0,413.79999999999995 Z" fill="#111"/>
<line x1="21.9" y1="358.5" x2="113.4" y2="358.5" stroke="#a4a4a4" stroke-width="0.8"/>
<path d="M113.0,357.4 L113.0,359.6 L114.9,358.5 Z" fill="#111"/>
<line x1="21.90" y1="357.2" x2="21.90" y2="359.8" stroke="#8a8a8a" stroke-width="0.7"/>
<line x1="40.50" y1="357.2" x2="40.50" y2="359.8" stroke="#8a8a8a" stroke-width="0.7"/>
<line x1="59.10" y1="357.2" x2="59.10" y2="359.8" stroke="#8a8a8a" stroke-width="0.7"/>
<line x1="77.70" y1="357.2" x2="77.70" y2="359.8" stroke="#8a8a8a" stroke-width="0.7"/>
<line x1="96.30" y1="357.2" x2="96.30" y2="359.8" stroke="#8a8a8a" stroke-width="0.7"/>
<text x="21.90" y="353.10" font-size="5.3" text-anchor="middle">0</text>
<text x="40.50" y="353.10" font-size="5.3" text-anchor="middle">0.1</text>
<text x="59.10" y="353.10" font-size="5.3" text-anchor="middle">0.2</text>
<text x="77.70" y="353.10" font-size="5.3" text-anchor="middle">0.3</text>
<text x="96.30" y="353.10" font-size="5.3" text-anchor="middle">0.4</text>
<text x="114.90" y="353.10" font-size="5.3" text-anchor="middle">0.5</text>
<text x="62.7" y="346.70" font-size="6.1" text-anchor="middle">4-3</text>
<text x="119.7" y="344.80" font-size="6.1" text-anchor="end">u [m/s]</text>
<text x="13.5" y="360.30" font-size="5.3" text-anchor="middle">0.9</text>
<text x="15.6" y="415.80" font-size="5.3" text-anchor="middle">1</text>
<text x="17.0" y="423.60" font-size="6.4" text-anchor="middle">d/d<tspan font-size="4.2" dy="1.2">0</tspan></text>
<rect x="155.5" y="337.4" width="117.7" height="88.7" fill="none" stroke="#e2e2e2" stroke-width="1.0"/>
<polyline points="204.4,358.6 205.3,370.4 209.3,391.6 214.3,398.2 217.5,411.2" fill="none" stroke="#c4c4c4" stroke-width="0.7" stroke-linejoin="round"/>
<polyline points="200.4,358.6 202.0,370.4 203.6,380.2 206.9,391.6 211.8,401.4 213.4,409.6" fill="none" stroke="#6e6e6e" stroke-width="0.7" stroke-linejoin="round"/>
<polyline points="195.4,358.6 197.9,365.4 201.2,372.0 200.4,378.5 199.5,388.3 202.8,393.3 208.5,399.8 211.8,404.7 211.8,411.2" fill="none" stroke="#444444" stroke-width="0.7" stroke-linejoin="round"/>
<polyline points="206.1,358.6 206.9,370.4 207.7,386.7 211.8,396.5 214.3,403.1 214.3,409.6" fill="none" stroke="#222222" stroke-width="0.7" stroke-linejoin="round"/>
<polyline points="254.7,358.6 254.1,365.7 253.5,377.4 254.1,384.4 257.0,392.6 259.4,398.4 260.6,404.2 260.6,410.7" fill="none" stroke="#a8a8a8" stroke-width="0.7" stroke-linejoin="round"/>
<polyline points="254.1,358.6 255.3,365.7 254.7,377.4 255.3,387.9 258.2,398.4 258.2,405.4 257.6,410.7" fill="none" stroke="#8c8c8c" stroke-width="0.7" stroke-linejoin="round"/>
<polyline points="236.6,358.6 233.7,361.0 231.9,365.7 231.3,369.2 233.7,373.9 233.7,383.2 236.0,389.0 239.5,394.9 241.3,400.7 241.9,407.7 242.8,411.8" fill="none" stroke="#ee4a4e" stroke-width="1.1" stroke-linejoin="round"/>
<line x1="226.8" y1="358.5" x2="226.8" y2="412.29999999999995" stroke="#bdbdbd" stroke-width="0.8"/>
<path d="M225.70000000000002,411.99999999999994 L227.9,411.99999999999994 L226.8,413.79999999999995 Z" fill="#111"/>
<line x1="173.5" y1="358.5" x2="264.75" y2="358.5" stroke="#a4a4a4" stroke-width="0.8"/>
<path d="M264.35,357.4 L264.35,359.6 L266.25,358.5 Z" fill="#111"/>
<line x1="173.50" y1="357.2" x2="173.50" y2="359.8" stroke="#8a8a8a" stroke-width="0.7"/>
<line x1="186.75" y1="357.2" x2="186.75" y2="359.8" stroke="#8a8a8a" stroke-width="0.7"/>
<line x1="200.00" y1="357.2" x2="200.00" y2="359.8" stroke="#8a8a8a" stroke-width="0.7"/>
<line x1="213.25" y1="357.2" x2="213.25" y2="359.8" stroke="#8a8a8a" stroke-width="0.7"/>
<line x1="226.50" y1="357.2" x2="226.50" y2="359.8" stroke="#8a8a8a" stroke-width="0.7"/>
<line x1="239.75" y1="357.2" x2="239.75" y2="359.8" stroke="#8a8a8a" stroke-width="0.7"/>
<line x1="253.00" y1="357.2" x2="253.00" y2="359.8" stroke="#8a8a8a" stroke-width="0.7"/>
<text x="173.50" y="353.10" font-size="5.3" text-anchor="middle">-0.04</text>
<text x="186.75" y="353.10" font-size="5.3" text-anchor="middle">-0.03</text>
<text x="200.00" y="353.10" font-size="5.3" text-anchor="middle">-0.02</text>
<text x="213.25" y="353.10" font-size="5.3" text-anchor="middle">-0.01</text>
<text x="226.50" y="353.10" font-size="5.3" text-anchor="middle">0</text>
<text x="239.75" y="353.10" font-size="5.3" text-anchor="middle">0.01</text>
<text x="253.00" y="353.10" font-size="5.3" text-anchor="middle">0.02</text>
<text x="266.25" y="353.10" font-size="5.3" text-anchor="middle">0.03</text>
<text x="214.5" y="346.70" font-size="6.1" text-anchor="middle">4-3</text>
<text x="271.0" y="344.80" font-size="6.1" text-anchor="end">v [m/s]</text>
<text x="218.0" y="360.30" font-size="5.3" text-anchor="middle">0.9</text>
<text x="220.0" y="415.80" font-size="5.3" text-anchor="middle">1</text>
<text x="218.2" y="423.60" font-size="6.4" text-anchor="middle">d/d<tspan font-size="4.2" dy="1.2">0</tspan></text>
<rect x="306.6" y="337.4" width="118.0" height="88.7" fill="none" stroke="#e2e2e2" stroke-width="1.0"/>
<polyline points="379.0,361.8 381.9,361.3 382.8,358.6" fill="none" stroke="#c4c4c4" stroke-width="0.7" stroke-linejoin="round"/>
<polyline points="378.1,358.6 378.4,367.7 377.6,379.4 376.7,386.0 376.5,395.0 377.0,404.0 378.0,411.0" fill="none" stroke="#a8a8a8" stroke-width="0.7" stroke-linejoin="round"/>
<polyline points="377.6,358.6 376.7,367.7 376.4,379.4 375.8,386.0 375.6,395.0 376.3,404.0 377.0,411.5" fill="none" stroke="#8c8c8c" stroke-width="0.7" stroke-linejoin="round"/>
<polyline points="376.0,358.6 374.8,366.0 375.2,378.0 376.3,390.0 376.8,400.0 376.8,411.0" fill="none" stroke="#909090" stroke-width="0.7" stroke-linejoin="round"/>
<polyline points="376.7,358.6 375.2,364.8 374.9,373.5 375.2,386.0 375.7,395.2 367.6,402.9 374.6,410.6 377.1,412.0" fill="none" stroke="#222222" stroke-width="0.7" stroke-linejoin="round"/>
<polyline points="376.5,358.6 375.5,366.0 375.5,378.0 375.6,390.0 376.2,400.0 376.7,412.0" fill="none" stroke="#444444" stroke-width="0.7" stroke-linejoin="round"/>
<polyline points="377.6,358.6 376.1,361.8 373.8,364.8 373.2,367.7 373.5,372.9 374.3,375.9 374.6,386.0 375.3,395.2 376.2,404.0 377.1,412.0" fill="none" stroke="#ee4a4e" stroke-width="1.1" stroke-linejoin="round"/>
<line x1="359.6" y1="358.5" x2="359.6" y2="412.29999999999995" stroke="#bdbdbd" stroke-width="0.8"/>
<path d="M358.5,411.99999999999994 L360.70000000000005,411.99999999999994 L359.6,413.79999999999995 Z" fill="#111"/>
<line x1="324.8" y1="358.5" x2="416.1" y2="358.5" stroke="#a4a4a4" stroke-width="0.8"/>
<path d="M415.70000000000005,357.4 L415.70000000000005,359.6 L417.6,358.5 Z" fill="#111"/>
<line x1="324.80" y1="357.2" x2="324.80" y2="359.8" stroke="#8a8a8a" stroke-width="0.7"/>
<line x1="336.40" y1="357.2" x2="336.40" y2="359.8" stroke="#8a8a8a" stroke-width="0.7"/>
<line x1="348.00" y1="357.2" x2="348.00" y2="359.8" stroke="#8a8a8a" stroke-width="0.7"/>
<line x1="359.60" y1="357.2" x2="359.60" y2="359.8" stroke="#8a8a8a" stroke-width="0.7"/>
<line x1="371.20" y1="357.2" x2="371.20" y2="359.8" stroke="#8a8a8a" stroke-width="0.7"/>
<line x1="382.80" y1="357.2" x2="382.80" y2="359.8" stroke="#8a8a8a" stroke-width="0.7"/>
<line x1="394.40" y1="357.2" x2="394.40" y2="359.8" stroke="#8a8a8a" stroke-width="0.7"/>
<line x1="406.00" y1="357.2" x2="406.00" y2="359.8" stroke="#8a8a8a" stroke-width="0.7"/>
<text x="324.80" y="353.10" font-size="5.3" text-anchor="middle">-0.03</text>
<text x="336.40" y="353.10" font-size="5.3" text-anchor="middle">-0.02</text>
<text x="348.00" y="353.10" font-size="5.3" text-anchor="middle">-0.01</text>
<text x="359.60" y="353.10" font-size="5.3" text-anchor="middle">0</text>
<text x="371.20" y="353.10" font-size="5.3" text-anchor="middle">0.01</text>
<text x="382.80" y="353.10" font-size="5.3" text-anchor="middle">0.02</text>
<text x="394.40" y="353.10" font-size="5.3" text-anchor="middle">0.03</text>
<text x="406.00" y="353.10" font-size="5.3" text-anchor="middle">0.04</text>
<text x="417.60" y="353.10" font-size="5.3" text-anchor="middle">0.05</text>
<text x="365.5" y="346.70" font-size="6.1" text-anchor="middle">4-3</text>
<text x="423.0" y="344.80" font-size="6.1" text-anchor="end">w [m/s]</text>
<text x="351.2" y="360.30" font-size="5.3" text-anchor="middle">0.9</text>
<text x="353.0" y="415.80" font-size="5.3" text-anchor="middle">1</text>
<text x="371.0" y="423.60" font-size="6.4" text-anchor="middle">d/d<tspan font-size="4.2" dy="1.2">0</tspan></text>
<text x="214.2" y="438.20" font-size="9" text-anchor="middle">(d)</text>
<rect x="3.5" y="443.8" width="117.8" height="88.7" fill="none" stroke="#e2e2e2" stroke-width="1.0"/>
<polyline points="93.6,465.0 92.4,483.4 91.8,506.7 90.0,517.2" fill="none" stroke="#c4c4c4" stroke-width="0.7" stroke-linejoin="round"/>
<polyline points="92.8,465.0 91.8,483.0 91.0,506.0 89.0,517.0" fill="none" stroke="#a8a8a8" stroke-width="0.7" stroke-linejoin="round"/>
<polyline points="59.3,465.2 70.0,465.4 77.5,465.8 82.0,468.2 88.5,469.5 84.3,472.8 88.6,475.0 85.8,476.5 89.0,479.5 89.5,483.0 89.5,495.0 88.9,506.7 84.2,511.4 86.0,512.6 81.9,514.9 79.5,518.4" fill="none" stroke="#909090" stroke-width="0.7" stroke-linejoin="round"/>
<polyline points="92.4,465.0 91.2,471.7 90.0,483.4 89.5,495.0 88.3,506.7 86.5,516.1" fill="none" stroke="#444444" stroke-width="0.7" stroke-linejoin="round"/>
<polyline points="91.8,465.0 90.7,471.7 89.6,483.4 89.1,495.0 88.0,506.7 86.0,516.0" fill="none" stroke="#222222" stroke-width="0.7" stroke-linejoin="round"/>
<polyline points="95.9,465.0 95.3,471.7 94.7,483.4 95.3,495.0 94.1,506.7 91.2,518.4" fill="none" stroke="#ee4a4e" stroke-width="1.1" stroke-linejoin="round"/>
<line x1="22.0" y1="464.90000000000003" x2="22.0" y2="518.7" stroke="#bdbdbd" stroke-width="0.8"/>
<path d="M20.9,518.4000000000001 L23.1,518.4000000000001 L22.0,520.2 Z" fill="#111"/>
<line x1="21.9" y1="464.90000000000003" x2="113.4" y2="464.90000000000003" stroke="#a4a4a4" stroke-width="0.8"/>
<path d="M113.0,463.8 L113.0,466.00000000000006 L114.9,464.90000000000003 Z" fill="#111"/>
<line x1="21.90" y1="463.6" x2="21.90" y2="466.20000000000005" stroke="#8a8a8a" stroke-width="0.7"/>
<line x1="40.50" y1="463.6" x2="40.50" y2="466.20000000000005" stroke="#8a8a8a" stroke-width="0.7"/>
<line x1="59.10" y1="463.6" x2="59.10" y2="466.20000000000005" stroke="#8a8a8a" stroke-width="0.7"/>
<line x1="77.70" y1="463.6" x2="77.70" y2="466.20000000000005" stroke="#8a8a8a" stroke-width="0.7"/>
<line x1="96.30" y1="463.6" x2="96.30" y2="466.20000000000005" stroke="#8a8a8a" stroke-width="0.7"/>
<text x="21.90" y="459.50" font-size="5.3" text-anchor="middle">0</text>
<text x="40.50" y="459.50" font-size="5.3" text-anchor="middle">0.1</text>
<text x="59.10" y="459.50" font-size="5.3" text-anchor="middle">0.2</text>
<text x="77.70" y="459.50" font-size="5.3" text-anchor="middle">0.3</text>
<text x="96.30" y="459.50" font-size="5.3" text-anchor="middle">0.4</text>
<text x="114.90" y="459.50" font-size="5.3" text-anchor="middle">0.5</text>
<text x="62.7" y="453.10" font-size="6.1" text-anchor="middle">5-3</text>
<text x="119.7" y="451.20" font-size="6.1" text-anchor="end">u [m/s]</text>
<text x="13.5" y="466.70" font-size="5.3" text-anchor="middle">0.9</text>
<text x="15.6" y="522.20" font-size="5.3" text-anchor="middle">1</text>
<text x="17.0" y="530.00" font-size="6.4" text-anchor="middle">d/d<tspan font-size="4.2" dy="1.2">0</tspan></text>
<rect x="155.5" y="443.8" width="117.7" height="88.7" fill="none" stroke="#e2e2e2" stroke-width="1.0"/>
<polyline points="213.1,465.0 213.1,476.0 212.5,480.0 210.6,486.5 209.4,492.0 210.6,498.2 214.7,506.4 218.8,512.9 220.0,516.0" fill="none" stroke="#c4c4c4" stroke-width="0.7" stroke-linejoin="round"/>
<polyline points="216.4,476.7 218.0,479.2 217.6,484.1 217.2,492.0 218.0,500.0 220.4,510.4 224.5,517.8" fill="none" stroke="#a8a8a8" stroke-width="0.7" stroke-linejoin="round"/>
<polyline points="215.0,465.0 215.1,469.8 222.1,468.1 224.5,467.5" fill="none" stroke="#909090" stroke-width="0.7" stroke-linejoin="round"/>
<polyline points="216.4,474.3 226.2,469.8 230.0,465.5" fill="none" stroke="#8c8c8c" stroke-width="0.7" stroke-linejoin="round"/>
<polyline points="213.5,465.0 213.8,474.0 213.5,482.0 213.0,490.0 214.5,498.0 217.0,506.0 219.0,512.0 220.0,516.0" fill="none" stroke="#6e6e6e" stroke-width="0.7" stroke-linejoin="round"/>
<polyline points="212.7,465.0 212.7,474.3 212.3,482.0 212.0,490.0 213.5,498.0 216.0,506.0 218.5,512.0 219.6,516.2" fill="none" stroke="#444444" stroke-width="0.7" stroke-linejoin="round"/>
<polyline points="214.7,465.0 215.1,474.3 214.5,482.0 214.0,490.0 215.5,498.0 217.5,506.0 219.2,512.0 219.8,516.0" fill="none" stroke="#222222" stroke-width="0.7" stroke-linejoin="round"/>
<polyline points="264.6,465.0 262.3,471.7 261.1,483.4 261.7,491.5 264.6,500.9 265.8,509.1 265.8,517.2" fill="none" stroke="#a8a8a8" stroke-width="0.7" stroke-linejoin="round"/>
<polyline points="265.2,465.0 263.5,471.7 262.3,483.4 262.9,495.0 265.2,504.4 264.6,517.2" fill="none" stroke="#8c8c8c" stroke-width="0.7" stroke-linejoin="round"/>
<polyline points="253.0,465.0 249.5,467.0 247.1,471.7 246.5,476.4 247.1,479.9 246.0,486.9 246.5,495.0 248.9,504.4 250.0,511.4 250.4,518.4" fill="none" stroke="#ee4a4e" stroke-width="1.1" stroke-linejoin="round"/>
<line x1="226.8" y1="464.90000000000003" x2="226.8" y2="518.7" stroke="#bdbdbd" stroke-width="0.8"/>
<path d="M225.70000000000002,518.4000000000001 L227.9,518.4000000000001 L226.8,520.2 Z" fill="#111"/>
<line x1="173.5" y1="464.90000000000003" x2="264.75" y2="464.90000000000003" stroke="#a4a4a4" stroke-width="0.8"/>
<path d="M264.35,463.8 L264.35,466.00000000000006 L266.25,464.90000000000003 Z" fill="#111"/>
<line x1="173.50" y1="463.6" x2="173.50" y2="466.20000000000005" stroke="#8a8a8a" stroke-width="0.7"/>
<line x1="186.75" y1="463.6" x2="186.75" y2="466.20000000000005" stroke="#8a8a8a" stroke-width="0.7"/>
<line x1="200.00" y1="463.6" x2="200.00" y2="466.20000000000005" stroke="#8a8a8a" stroke-width="0.7"/>
<line x1="213.25" y1="463.6" x2="213.25" y2="466.20000000000005" stroke="#8a8a8a" stroke-width="0.7"/>
<line x1="226.50" y1="463.6" x2="226.50" y2="466.20000000000005" stroke="#8a8a8a" stroke-width="0.7"/>
<line x1="239.75" y1="463.6" x2="239.75" y2="466.20000000000005" stroke="#8a8a8a" stroke-width="0.7"/>
<line x1="253.00" y1="463.6" x2="253.00" y2="466.20000000000005" stroke="#8a8a8a" stroke-width="0.7"/>
<text x="173.50" y="459.50" font-size="5.3" text-anchor="middle">-0.04</text>
<text x="186.75" y="459.50" font-size="5.3" text-anchor="middle">-0.03</text>
<text x="200.00" y="459.50" font-size="5.3" text-anchor="middle">-0.02</text>
<text x="213.25" y="459.50" font-size="5.3" text-anchor="middle">-0.01</text>
<text x="226.50" y="459.50" font-size="5.3" text-anchor="middle">0</text>
<text x="239.75" y="459.50" font-size="5.3" text-anchor="middle">0.01</text>
<text x="253.00" y="459.50" font-size="5.3" text-anchor="middle">0.02</text>
<text x="266.25" y="459.50" font-size="5.3" text-anchor="middle">0.03</text>
<text x="214.5" y="453.10" font-size="6.1" text-anchor="middle">5-3</text>
<text x="271.0" y="451.20" font-size="6.1" text-anchor="end">v [m/s]</text>
<text x="218.0" y="466.70" font-size="5.3" text-anchor="middle">0.9</text>
<text x="220.0" y="522.20" font-size="5.3" text-anchor="middle">1</text>
<text x="218.2" y="530.00" font-size="6.4" text-anchor="middle">d/d<tspan font-size="4.2" dy="1.2">0</tspan></text>
<rect x="306.6" y="443.8" width="118.0" height="88.7" fill="none" stroke="#e2e2e2" stroke-width="1.0"/>
<polyline points="371.1,465.0 371.5,466.9 374.0,468.5 378.9,469.8 374.0,472.2 378.9,473.4 375.2,475.5 378.5,476.7" fill="none" stroke="#909090" stroke-width="0.7" stroke-linejoin="round"/>
<polyline points="371.5,465.5 378.9,465.3" fill="none" stroke="#6e6e6e" stroke-width="0.7" stroke-linejoin="round"/>
<polyline points="382.6,470.6 387.1,472.6 383.0,473.4" fill="none" stroke="#8c8c8c" stroke-width="0.7" stroke-linejoin="round"/>
<polyline points="383.7,470.3 413.6,466.5" fill="none" stroke="#c4c4c4" stroke-width="0.7" stroke-linejoin="round"/>
<polyline points="381.2,510.2 384.7,511.4 381.8,513.2 385.9,514.9 381.8,516.1" fill="none" stroke="#a8a8a8" stroke-width="0.7" stroke-linejoin="round"/>
<polyline points="380.0,465.0 379.5,480.0 379.0,495.0 378.5,507.0 378.3,517.2" fill="none" stroke="#6e6e6e" stroke-width="0.7" stroke-linejoin="round"/>
<polyline points="381.0,465.0 380.5,480.0 380.6,495.0 381.0,507.0 381.2,517.2" fill="none" stroke="#444444" stroke-width="0.7" stroke-linejoin="round"/>
<polyline points="379.3,465.0 379.7,478.4 379.3,492.0 379.5,507.0 380.2,517.2" fill="none" stroke="#222222" stroke-width="0.7" stroke-linejoin="round"/>
<polyline points="382.2,465.0 380.1,472.6 380.5,482.4 381.4,492.0 381.2,506.7 381.2,518.4" fill="none" stroke="#ee4a4e" stroke-width="1.1" stroke-linejoin="round"/>
<line x1="359.6" y1="464.90000000000003" x2="359.6" y2="518.7" stroke="#bdbdbd" stroke-width="0.8"/>
<path d="M358.5,518.4000000000001 L360.70000000000005,518.4000000000001 L359.6,520.2 Z" fill="#111"/>
<line x1="324.8" y1="464.90000000000003" x2="416.1" y2="464.90000000000003" stroke="#a4a4a4" stroke-width="0.8"/>
<path d="M415.70000000000005,463.8 L415.70000000000005,466.00000000000006 L417.6,464.90000000000003 Z" fill="#111"/>
<line x1="324.80" y1="463.6" x2="324.80" y2="466.20000000000005" stroke="#8a8a8a" stroke-width="0.7"/>
<line x1="336.40" y1="463.6" x2="336.40" y2="466.20000000000005" stroke="#8a8a8a" stroke-width="0.7"/>
<line x1="348.00" y1="463.6" x2="348.00" y2="466.20000000000005" stroke="#8a8a8a" stroke-width="0.7"/>
<line x1="359.60" y1="463.6" x2="359.60" y2="466.20000000000005" stroke="#8a8a8a" stroke-width="0.7"/>
<line x1="371.20" y1="463.6" x2="371.20" y2="466.20000000000005" stroke="#8a8a8a" stroke-width="0.7"/>
<line x1="382.80" y1="463.6" x2="382.80" y2="466.20000000000005" stroke="#8a8a8a" stroke-width="0.7"/>
<line x1="394.40" y1="463.6" x2="394.40" y2="466.20000000000005" stroke="#8a8a8a" stroke-width="0.7"/>
<line x1="406.00" y1="463.6" x2="406.00" y2="466.20000000000005" stroke="#8a8a8a" stroke-width="0.7"/>
<text x="324.80" y="459.50" font-size="5.3" text-anchor="middle">-0.03</text>
<text x="336.40" y="459.50" font-size="5.3" text-anchor="middle">-0.02</text>
<text x="348.00" y="459.50" font-size="5.3" text-anchor="middle">-0.01</text>
<text x="359.60" y="459.50" font-size="5.3" text-anchor="middle">0</text>
<text x="371.20" y="459.50" font-size="5.3" text-anchor="middle">0.01</text>
<text x="382.80" y="459.50" font-size="5.3" text-anchor="middle">0.02</text>
<text x="394.40" y="459.50" font-size="5.3" text-anchor="middle">0.03</text>
<text x="406.00" y="459.50" font-size="5.3" text-anchor="middle">0.04</text>
<text x="417.60" y="459.50" font-size="5.3" text-anchor="middle">0.05</text>
<text x="365.5" y="453.10" font-size="6.1" text-anchor="middle">5-3</text>
<text x="423.0" y="451.20" font-size="6.1" text-anchor="end">w [m/s]</text>
<text x="351.2" y="466.70" font-size="5.3" text-anchor="middle">0.9</text>
<text x="353.0" y="522.20" font-size="5.3" text-anchor="middle">1</text>
<text x="371.0" y="530.00" font-size="6.4" text-anchor="middle">d/d<tspan font-size="4.2" dy="1.2">0</tspan></text>
<text x="214.2" y="545.10" font-size="9" text-anchor="middle">(e)</text>
</svg></body></html>
